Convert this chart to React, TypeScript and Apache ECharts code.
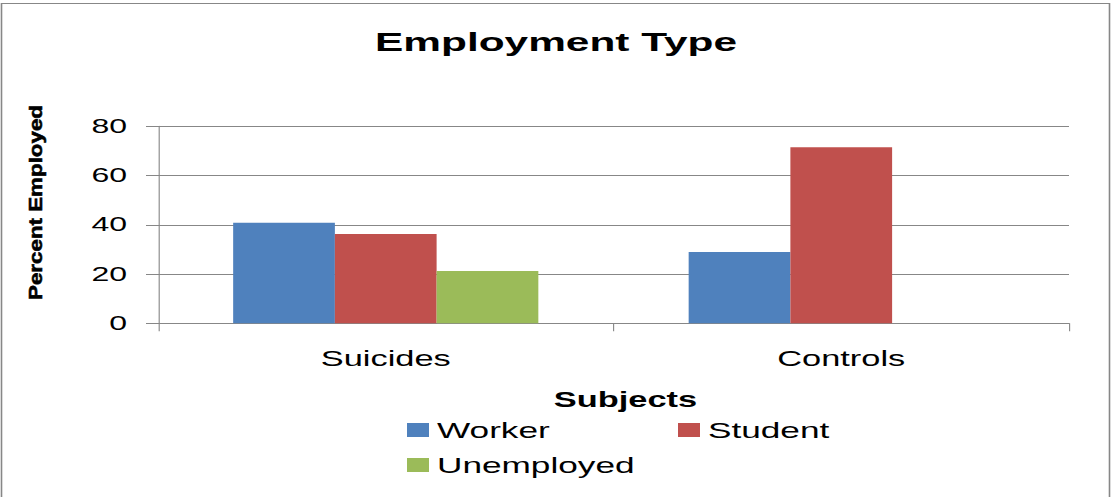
import React, { useEffect, useRef } from "react";
import * as echarts from "echarts";

const categories = ["Suicides", "Controls"];
const workerValues = [40.8, 28.9];
const studentValues = [36.2, 71.5];
const unemployedValues = [21.2, 0];
const yTicks = [0, 20, 40, 60, 80];

const STRETCH = 1.6;
const INNER_W = 1112 / STRETCH;
const H = 497;
const FONT = "'Liberation Sans', Arial, Helvetica, sans-serif";
const GRAY = "#878787";

export default function App() {
  const ref = useRef<HTMLDivElement>(null);
  useEffect(() => {
    if (!ref.current) return;
    const chart = echarts.init(ref.current, null, { renderer: "svg" });
    const px = (x: number) => x / STRETCH;
    const legendItem = (name: string, left: number, top: number) => ({
      show: true,
      data: [name],
      left: px(left),
      top,
      padding: 0,
      icon: "rect",
      itemWidth: px(22),
      itemHeight: 14,
      selectedMode: false,
      textStyle: { fontSize: 22, color: "#000", fontFamily: FONT },
    });
    chart.setOption({
      animation: false,
      backgroundColor: "#fff",
      textStyle: { fontFamily: FONT },
      title: {
        text: "Employment Type",
        left: "center",
        top: 28,
        padding: 0,
        textStyle: { fontSize: 26.5, fontWeight: "bold", color: "#000", fontFamily: FONT },
      },
      legend: [
        legendItem("Worker", 407, 419),
        legendItem("Student", 678, 419),
        legendItem("Unemployed", 407, 454),
      ],
      grid: {
        left: px(158),
        right: INNER_W - px(1069),
        top: 126.2,
        bottom: H - 323.3,
        containLabel: false,
      },
      xAxis: {
        type: "category",
        data: categories,
        axisLine: { show: true, lineStyle: { color: GRAY, width: 1 } },
        axisTick: { show: true, length: 8, inside: false, lineStyle: { color: GRAY, width: 0.7 } },
        axisLabel: { fontSize: 21.5, color: "#000", margin: 24.5, fontFamily: FONT },
        splitLine: { show: false },
      },
      yAxis: {
        type: "value",
        min: 0,
        max: 80,
        interval: 20,
        axisLine: { show: true, lineStyle: { color: GRAY, width: 0.7 } },
        axisTick: { show: true, length: px(12), inside: false, lineStyle: { color: GRAY, width: 1 } },
        axisLabel: {
          fontSize: 20,
          color: "#000",
          margin: px(158 - 127),
          fontFamily: FONT,
          formatter: (v: number) => (yTicks.includes(v) ? String(v) : ""),
        },
        splitLine: { show: true, lineStyle: { color: GRAY, width: 1 } },
      },
      graphic: [
        {
          type: "rect",
          shape: { x: px(1.5), y: 3.5, width: px(1109.5) - px(1.5), height: 520 },
          style: { fill: "none", stroke: GRAY, lineWidth: 1 },
          silent: true,
          z: 100,
        },
        {
          type: "text",
          x: px(35),
          y: 202.5,
          rotation: Math.PI / 2,
          scaleX: 0.86,
          scaleY: 0.45,
          style: {
            text: "Percent Employed",
            fontSize: 26,
            fontWeight: "bold",
            fontFamily: FONT,
            fill: "#000",
            stroke: "#000",
            lineWidth: 0.8,
            align: "center",
            verticalAlign: "middle",
            textAlign: "center",
            textVerticalAlign: "middle",
          },
        },
        {
          type: "text",
          x: px(625.5),
          y: 400,
          style: {
            text: "Subjects",
            fontSize: 21.5,
            fontWeight: "bold",
            fontFamily: FONT,
            fill: "#000",
            align: "center",
            verticalAlign: "middle",
            textAlign: "center",
            textVerticalAlign: "middle",
          },
        },
      ],
      series: [
        {
          name: "Worker",
          type: "bar",
          data: workerValues,
          barGap: "0%",
          barCategoryGap: "33%",
          itemStyle: { color: "#4F81BD" },
        },
        {
          name: "Student",
          type: "bar",
          data: studentValues,
          barGap: "0%",
          barCategoryGap: "33%",
          itemStyle: { color: "#C0504D" },
        },
        {
          name: "Unemployed",
          type: "bar",
          data: unemployedValues,
          barGap: "0%",
          barCategoryGap: "33%",
          itemStyle: { color: "#9BBB59" },
        },
      ],
    });
    return () => chart.dispose();
  }, []);
  return (
    <div
      ref={ref}
      style={{
        position: "absolute",
        left: 0,
        top: 0,
        width: INNER_W,
        height: H,
        transform: `scaleX(${STRETCH})`,
        transformOrigin: "0 0",
      }}
    />
  );
}
